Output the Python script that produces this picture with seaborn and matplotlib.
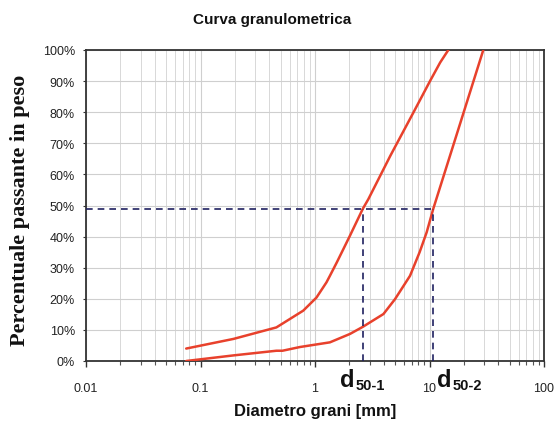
import matplotlib
matplotlib.use("Agg")
import matplotlib.pyplot as plt
import matplotlib.ticker as mticker
import seaborn as sns
import pandas as pd
import numpy as np

# ---- data ----
curve1_d = [0.075, 0.194, 0.46, 0.79, 1.03, 1.26, 1.35, 1.55, 1.77, 2.02, 2.62, 2.92,
            4.55, 7.26, 10.1, 12.4, 14.6]
curve1_p = [4.0, 7.1, 10.8, 16.2, 20.4, 25.3, 27.4, 31.7, 36.0, 40.3, 49.0, 52.0,
            66.0, 80.0, 90.0, 96.0, 100.0]

curve2_d = [0.075, 0.194, 0.46, 0.52, 0.74, 1.35, 2.02, 2.62, 3.96, 5.0, 6.76, 8.2,
            9.45, 10.8, 15.1, 19.9, 29.5]
curve2_p = [0.0, 1.8, 3.3, 3.3, 4.5, 6.0, 8.7, 11.0, 15.1, 19.9, 27.4, 35.0,
            41.4, 49.0, 66.0, 80.0, 100.0]

d50_level = 49.0
d50_values = [2.62, 10.8]
d50_labels = ["50-1", "50-2"]

x_ticks = [0.01, 0.1, 1, 10, 100]
x_ticklabels = ["0.01", "0.1", "1", "10", "100"]
y_ticks = list(range(0, 101, 10))

title = "Curva granulometrica"
xlabel = "Diametro grani [mm]"
ylabel = "Percentuale passante in peso"

# ---- plot ----
sns.set_theme(style="white")
plt.rcParams['font.family'] = ['Liberation Sans', 'DejaVu Sans']

W, H = 555, 427
fig = plt.figure(figsize=(W / 100, H / 100), dpi=100)
ax = fig.add_axes([86 / W, (H - 362) / H, (544 - 86) / W, (362 - 51) / H])

df = pd.concat([
    pd.DataFrame({"d": curve1_d, "p": curve1_p, "c": "1"}),
    pd.DataFrame({"d": curve2_d, "p": curve2_p, "c": "2"}),
])
red = "#e8412c"
sns.lineplot(data=df, x="d", y="p", units="c", estimator=None, sort=False,
             color=red, linewidth=1.8, ax=ax, zorder=3,
             solid_joinstyle="round", solid_capstyle="round")

ax.set_xscale("log")
ax.set_xlim(0.01, 100)
ax.set_ylim(0, 100)

# dashed d50 guides
navy = "#1f2060"
ax.plot([0.01, d50_values[1]], [d50_level, d50_level], linestyle=(0, (4, 3)),
        color=navy, linewidth=1.2, zorder=4)
for v in d50_values:
    ax.plot([v, v], [0, d50_level], linestyle=(0, (4, 3)), color=navy,
            linewidth=1.2, zorder=4)

ax.xaxis.set_major_locator(mticker.FixedLocator(x_ticks))
ax.xaxis.set_major_formatter(mticker.FixedFormatter(x_ticklabels))
ax.xaxis.set_minor_locator(mticker.LogLocator(base=10, subs=np.arange(2, 10)))
ax.xaxis.set_minor_formatter(mticker.NullFormatter())
ax.set_yticks(y_ticks)
ax.set_yticklabels([f"{v}%" for v in y_ticks])

ax.grid(True, which="major", color="#cfcfcf", linewidth=0.8)
ax.grid(True, which="minor", axis="x", color="#d8d8d8", linewidth=0.7)
ax.set_axisbelow(True)

for s in ax.spines.values():
    s.set_color("#333333")
    s.set_linewidth(1.3)

ax.tick_params(axis="x", which="major", bottom=True, length=4, width=1,
               color="#333333", pad=11, labelsize=9, labelcolor="#222222")
ax.tick_params(axis="x", which="minor", bottom=True, length=3, width=0.8,
               color="#555555")
ax.tick_params(axis="y", which="major", left=True, length=2, width=0.8,
               color="#333333", pad=6, labelsize=9, labelcolor="#222222")

ax.set_xlabel("")
ax.set_ylabel("")

fig.text(272 / W, 1 - 20 / H, title, ha="center", va="center",
         fontsize=11, fontweight="bold", color="#111111")
fig.text(315 / W, 1 - 412 / H, xlabel, ha="center", va="center",
         fontsize=12, fontweight="bold", color="#111111")
fig.text(20 / W, 1 - 210 / H, ylabel, ha="center", va="center",
         rotation=90, fontsize=16, fontweight="bold", color="#111111",
         family=["Liberation Serif", "DejaVu Serif"])

# d50 labels
for dx, lab in zip([340, 437], d50_labels):
    fig.text(dx / W, 1 - 387 / H, "d", ha="left", va="baseline",
             fontsize=17, fontweight="bold", color="#111111")
    fig.text((dx + 16) / W, 1 - 390 / H, lab, ha="left", va="baseline",
             fontsize=10.5, fontweight="bold", color="#111111")

fig.savefig("out.png", dpi=100)
